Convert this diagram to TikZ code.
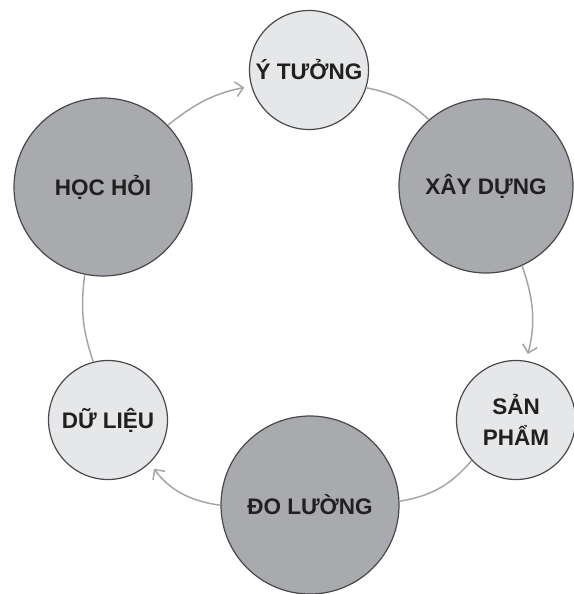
\documentclass[tikz,border=0pt]{standalone}
\usepackage{fontspec}
\setmainfont{Liberation Sans}
\usepackage{tikz}
\usetikzlibrary{arrows.meta}
\definecolor{darkfill}{HTML}{A8AAAD}
\definecolor{lightfill}{HTML}{E6E7E8}
\definecolor{rimgray}{HTML}{48484A}
\definecolor{linkgray}{HTML}{A5A5A5}
\definecolor{textdark}{HTML}{231F20}

\begin{document}
\begin{tikzpicture}[
                x=1pt, y=-1pt,
                bigcirc/.style={circle, draw=rimgray, line width=1.2pt, fill=darkfill, minimum size=178pt, inner sep=0pt, font=\fontsize{22.5}{31}\selectfont\bfseries, text=textdark, align=center},
                smallcirc/.style={bigcirc, fill=lightfill, minimum size=119pt},
                link/.style={draw=linkgray, line width=1.5pt},
                flow/.style={link, -{Straight Barb[length=7.5pt, width=15pt]}, shorten >=7pt}
            ]
                \useasboundingbox (0,0) rectangle (573,594);

                \node[bigcirc] (hoc) at (103,187) {HỌC HỎI};
                \node[smallcirc] (ytuong) at (309,70) {Ý TƯỞNG};
                \node[bigcirc, minimum size=174pt] (xay) at (486,186) {XÂY DỰNG};
                \node[smallcirc] (san) at (516,420) {SẢN\\PHẨM};
                \node[bigcirc] (do) at (310,505) {ĐO LƯỜNG};
                \node[smallcirc] (du) at (108,420) {DỮ LIỆU};

                \draw[flow] (hoc) to[bend left=14] (ytuong);
                \draw[link] (ytuong) to[bend left=16] (xay);
                \draw[flow] (xay) to[bend left=17] (san);
                \draw[link] (san) to[bend left=20] (do);
                \draw[flow] (do) to[bend left=23] (du);
                \draw[link] (du) to[bend left=13] (hoc);
            \end{tikzpicture}
\end{document}
